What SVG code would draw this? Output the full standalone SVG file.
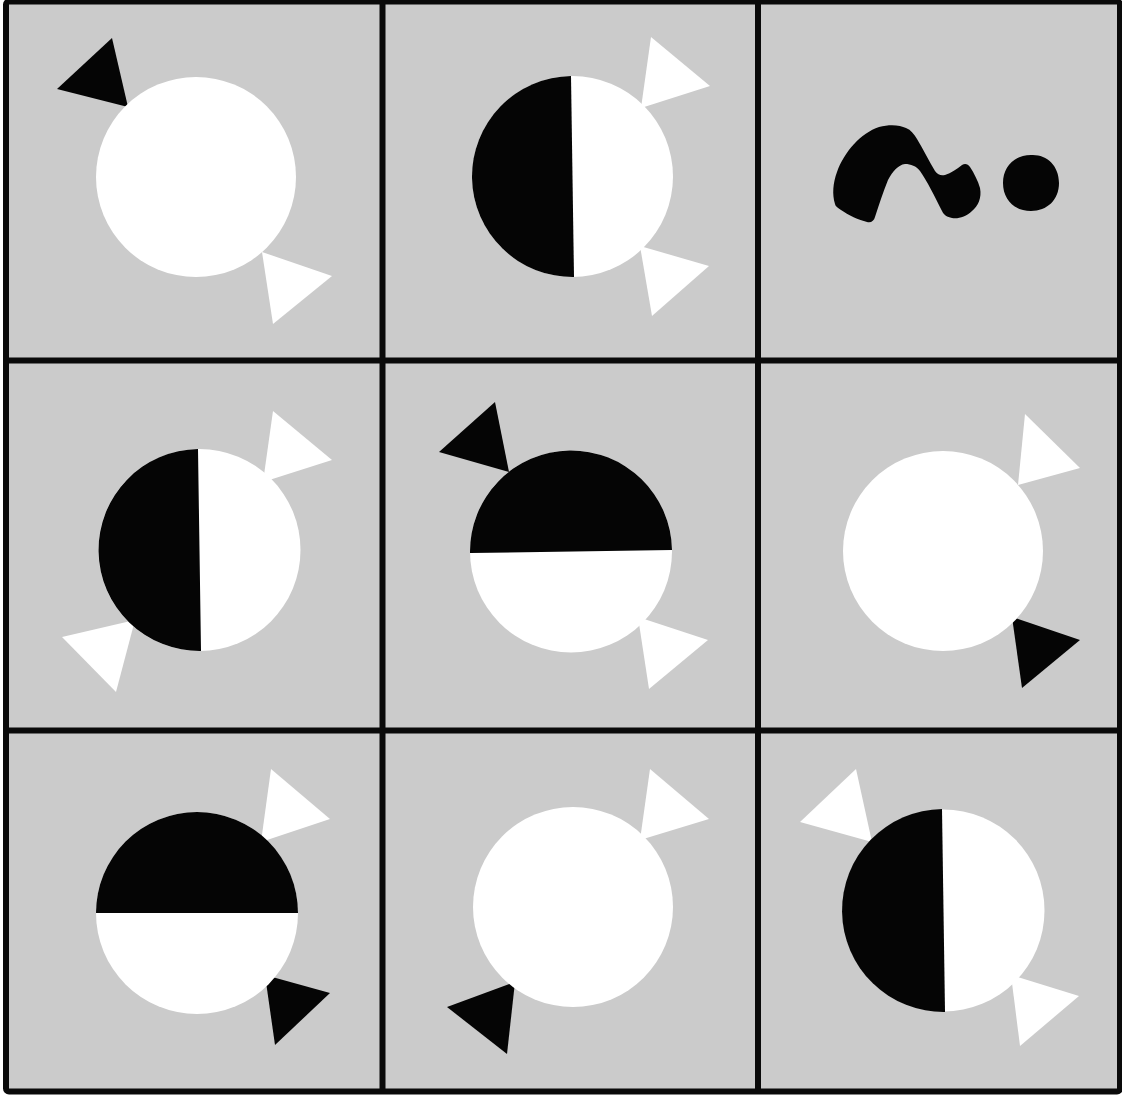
<svg xmlns="http://www.w3.org/2000/svg" width="1122" height="1099" viewBox="0 0 1122 1099">
<style>
.bg{fill:#cbcbcb}
.grid{stroke:#0a0a0a;stroke-width:6;fill:none}
.w{fill:#ffffff}
.k{fill:#050505}
</style>
<rect width="1122" height="1099" fill="#ffffff"/>
<rect class="bg" x="5" y="1" width="1115" height="1090"/>
<g id="cell-1-1">
<polygon class="k" points="112,38 57,89 128,107"/>
<polygon class="w" points="262,252 332,276 273,324"/>
<circle class="w" cx="196" cy="177" r="100"/>
</g>
<g id="cell-1-2">
<polygon class="w" points="651,37 710,86 641,108"/>
<polygon class="w" points="640,246 709,266 652,316"/>
<circle class="w" cx="572.5" cy="176.5" r="100.5"/>
<path class="k" d="M571 76 A100.5 100.5 0 0 0 574 277 Z"/>
</g>
<g id="cell-1-3">
<path class="k" d="M835 204 C832 194 833 183 837 172 C844 152 861 133 879 127 C890 124 900 125 906 128 C911 130 914 134 917 139 C923 149 929 161 935 171 C938 175 941 176 945 175 C951 173 957 169 962 165 C965 163 968 164 970 167 C974 173 978 181 980 188 C982 198 978 206 972 211 C966 217 958 219 952 218 C947 217 944 215 942 211 C935 197 927 181 920 171 C916 166 911 164 905 164 C898 165 893 171 888 180 C883 192 879 205 875 217 C874 221 871 223 867 222 C859 220 848 215 841 210 C838 208 835 206 835 204 Z"/>
<path class="k" d="M1031 155 C1046 154 1059 165 1059 183 C1059 200 1047 211 1031 211 C1015 211 1003 200 1003 183 C1003 167 1014 155 1031 155 Z"/>
</g>
<g id="cell-2-1">
<polygon class="w" points="273,411 332,460 263,482"/>
<polygon class="w" points="62,637 135,620 116,692"/>
<circle class="w" cx="199.5" cy="550" r="101"/>
<path class="k" d="M198 449 A101 101 0 0 0 201 651 Z"/>
</g>
<g id="cell-2-2">
<polygon class="k" points="495,402 439,452 509,472"/>
<polygon class="w" points="638,617 708,640 649,689"/>
<circle class="w" cx="571" cy="551.5" r="101"/>
<path class="k" d="M470 553 A101 101 0 0 1 672 550 Z"/>
</g>
<g id="cell-2-3">
<polygon class="w" points="1025,414 1080,468 1018,485"/>
<polygon class="k" points="1012,617 1080,640 1022,688"/>
<circle class="w" cx="943" cy="551" r="100"/>
</g>
<g id="cell-3-1">
<polygon class="w" points="271,769 330,819 261,842"/>
<polygon class="k" points="265,975 330,993 275,1045"/>
<circle class="w" cx="197" cy="913" r="101"/>
<path class="k" d="M96 913 A101 101 0 0 1 298 913 Z"/>
</g>
<g id="cell-3-2">
<polygon class="w" points="650,769 709,819 640,840"/>
<polygon class="k" points="447,1007 515,982 507,1054"/>
<circle class="w" cx="573" cy="907" r="100"/>
</g>
<g id="cell-3-3">
<polygon class="w" points="856,769 800,822 872,842"/>
<polygon class="w" points="1011,975 1079,996 1020,1046"/>
<circle class="w" cx="943.5" cy="910.5" r="101"/>
<path class="k" d="M942 809 A101 101 0 0 0 945 1012 Z"/>
</g>
<g id="grid">
<rect class="grid" x="6" y="1.5" width="1114" height="1090" rx="3"/>
<line class="grid" x1="382.5" y1="1" x2="382.5" y2="1091"/>
<line class="grid" x1="758" y1="1" x2="758" y2="1091"/>
<line class="grid" x1="6" y1="360.5" x2="1120" y2="360.5"/>
<line class="grid" x1="6" y1="730.5" x2="1120" y2="730.5"/>
</g>
</svg>
